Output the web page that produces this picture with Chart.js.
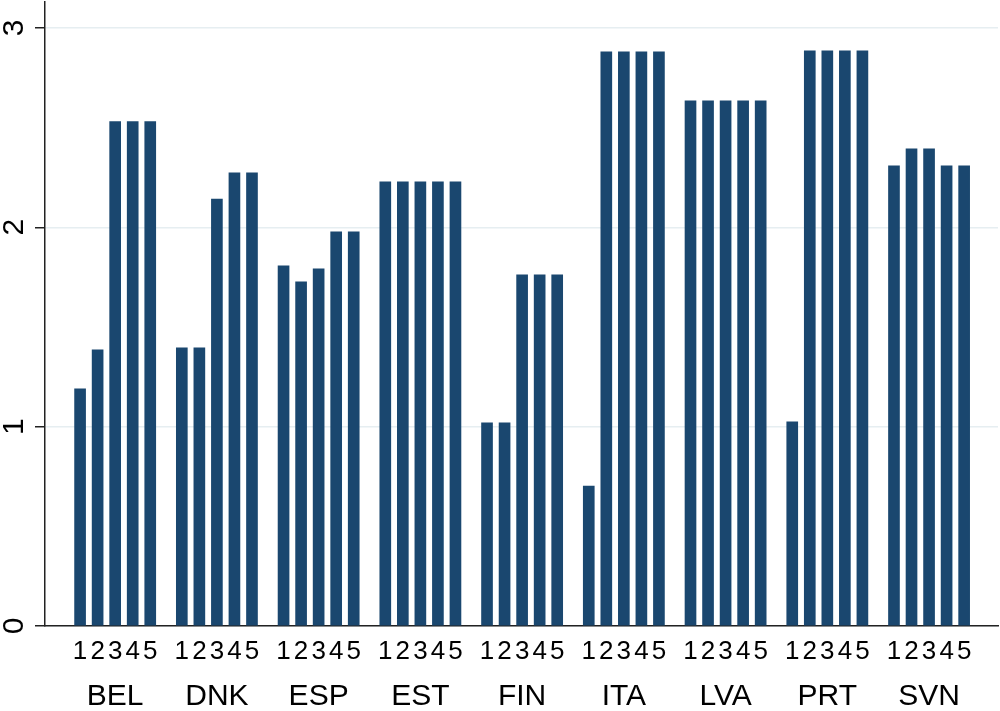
<!DOCTYPE html>
<html>
<head>
<meta charset="utf-8">
<script src="https://cdn.jsdelivr.net/npm/chart.js@4.4.0/dist/chart.umd.min.js"></script>
<style>
  html, body { margin: 0; padding: 0; background: #fff; }
  #grafico { display: block; }
</style>
</head>
<body>
<canvas id="grafico" width="1000" height="711"></canvas>
<script>
var paises = ["BEL", "DNK", "ESP", "EST", "FIN", "ITA", "LVA", "PRT", "SVN"];
var ondas = ["1", "2", "3", "4", "5"];

// valores por onda (uma entrada por país)
var onda1 = [1.19, 1.395, 1.806, 2.228, 1.019, 0.702, 2.634, 1.024, 2.308];
var onda2 = [1.385, 1.395, 1.726, 2.228, 1.019, 2.88, 2.634, 2.885, 2.393];
var onda3 = [2.53, 2.142, 1.791, 2.228, 1.761, 2.88, 2.634, 2.885, 2.393];
var onda4 = [2.53, 2.273, 1.977, 2.228, 1.761, 2.88, 2.634, 2.885, 2.308];
var onda5 = [2.53, 2.273, 1.977, 2.228, 1.761, 2.88, 2.634, 2.885, 2.308];

var yTicks = [0, 1, 2, 3];

var corBarra = "#1a476f";
var passoGrupo = 5.8; // distância entre grupos, em unidades de barra
var fonte = "'Liberation Sans', Arial, sans-serif";

function posicao(g, k) {
  return g * passoGrupo + k;
}

var todasOndas = [onda1, onda2, onda3, onda4, onda5];

var datasets = todasOndas.map(function (onda, k) {
  return {
    label: ondas[k],
    data: onda.map(function (v, g) {
      return { x: posicao(g, k), y: v };
    }),
    backgroundColor: corBarra,
    borderWidth: 0,
    barThickness: 11,
  };
});

var posOndas = [];
var rotOndas = [];
paises.forEach(function (p, g) {
  ondas.forEach(function (o, k) {
    posOndas.push(posicao(g, k));
    rotOndas.push(o);
  });
});
var posPaises = paises.map(function (p, g) {
  return posicao(g, 2);
});

Chart.defaults.font.family = fonte;
Chart.defaults.color = "#000";

function semPaddingX(scale, altura) {
  scale.height = altura;
  scale.paddingLeft = 0;
  scale.paddingRight = 0;
}

const config = {
  type: "bar",
  data: { datasets: datasets },
  options: {
    responsive: false,
    animation: { duration: 0 },
    grouped: false,
    layout: { padding: { top: 2, right: 2, left: 0, bottom: 0 } },
    plugins: { legend: { display: false }, tooltip: { enabled: false } },
    scales: {
      x: {
        type: "linear",
        position: "bottom",
        offset: false,
        weight: 1,
        min: -2,
        max: 52.33,
        grid: { display: false, drawTicks: false },
        border: { display: true, color: "#222", width: 1.5 },
        afterBuildTicks: function (scale) {
          scale.ticks = posOndas.map(function (v) { return { value: v }; });
        },
        afterFit: function (scale) { semPaddingX(scale, 44); },
        ticks: {
          autoSkip: false,
          minRotation: 0,
          maxRotation: 0,
          padding: 10,
          font: { size: 26 },
          callback: function (valor, i) { return rotOndas[i]; },
        },
      },
      x2: {
        type: "linear",
        position: "bottom",
        offset: false,
        weight: 2,
        min: -2,
        max: 52.33,
        grid: { display: false, drawTicks: false },
        border: { display: false },
        afterBuildTicks: function (scale) {
          scale.ticks = posPaises.map(function (v) { return { value: v }; });
        },
        afterFit: function (scale) { semPaddingX(scale, 41); },
        ticks: {
          autoSkip: false,
          minRotation: 0,
          maxRotation: 0,
          padding: 9,
          font: { size: 30 },
          callback: function (valor, i) { return paises[i]; },
        },
      },
      y: {
        min: 0,
        max: 3.13,
        position: "left",
        afterBuildTicks: function (scale) {
          scale.ticks = yTicks.map(function (v) { return { value: v }; });
        },
        afterFit: function (scale) {
          scale.width = 45;
          scale.paddingTop = 0;
          scale.paddingBottom = 0;
        },
        grid: {
          color: "#e6eef1",
          lineWidth: 1.5,
          tickLength: 10,
          tickColor: "#222",
          tickWidth: 1.5,
        },
        border: { display: true, color: "#222", width: 1.5 },
        ticks: {
          minRotation: 90,
          maxRotation: 90,
          crossAlign: "center",
          padding: 11.5,
          font: { size: 30 },
          callback: function (valor) { return String(valor); },
        },
      },
    },
  },
};

var grafico = new Chart(document.getElementById("grafico"), config);
</script>
</body>
</html>
